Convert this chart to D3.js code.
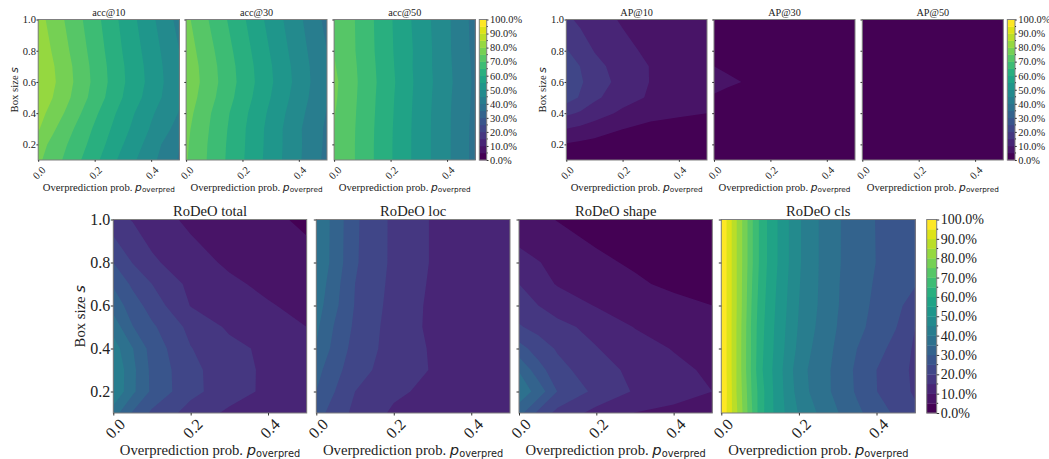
<!DOCTYPE html>
<html>
<head>
<meta charset="utf-8">
<script src="https://cdn.jsdelivr.net/npm/d3@7"></script>
<style>
  html, body { margin: 0; padding: 0; background: #fff; }
  text { font-family: "Liberation Serif", serif; fill: #222; }
  .math { font-family: "DejaVu Sans", sans-serif; }
  .domain { display: none; }
  .tick line { stroke: #333; }
</style>
</head>
<body>
<svg id="chart" width="1049" height="459"></svg>
<script>
// grid the values are read on, rows run from s = 0.1 up to s = 1.0
const sGrid = [0.1, 0.2, 0.3, 0.4, 0.5, 0.6, 0.7, 0.8, 1.0];
const pGrid = [0, 0.05, 0.1, 0.2, 0.3, 0.4, 0.5];
const pGridCls = [0, 0.02, 0.04, 0.06, 0.08, 0.1, 0.12, 0.15, 0.2, 0.25, 0.3, 0.35, 0.4, 0.45, 0.5];

const levels = d3.range(0, 101, 5);
const xTicks = [0, 0.2, 0.4];
const yTicks = [0.2, 0.4, 0.6, 0.8, 1.0];
const cbarTicks = d3.range(0, 101, 10);

const acc10 = [
  [76, 72.5, 68.9, 61.4, 53.3, 46.4, 39.5],
  [77.3, 73.7, 70.2, 63, 55.1, 47.8, 40],
  [80.5, 76, 72, 64.3, 56.7, 49.5, 43],
  [82, 78.2, 74.3, 66, 58, 50.7, 44.7],
  [84, 80.1, 76.2, 68, 59.9, 52.6, 45.6],
  [84.9, 81, 77, 68.8, 60.6, 53.4, 45.8],
  [84.5, 80.6, 76.7, 68.5, 60.4, 53.1, 45.5],
  [83.6, 79.7, 75.8, 67.9, 59.8, 52.5, 45],
  [82, 78.2, 74.4, 66.8, 58.7, 51.2, 43.3]
];
const acc30 = [
  [75.4, 71.8, 67.9, 60.5, 52.9, 45.7, 38.5],
  [75.7, 72, 68.1, 60.7, 53.1, 45.8, 38.9],
  [76.2, 72.4, 68.6, 60.9, 53.2, 45.7, 39.1],
  [77, 73.1, 69.1, 61.5, 53.9, 46.5, 39.7],
  [78, 74.2, 70.4, 62.7, 55, 47.5, 40.3],
  [78.7, 74.9, 71.1, 63.4, 55.7, 48.2, 40.5],
  [78.4, 74.6, 70.8, 63.1, 55.4, 47.9, 40.4],
  [77.7, 73.9, 70.1, 62.4, 54.7, 47.2, 40],
  [76.3, 72.3, 68.4, 60.9, 53.2, 46.1, 38.5]
];
const acc50 = [
  [75.1, 71.7, 68.1, 60.5, 53, 46, 38.3],
  [75.1, 71.7, 68.1, 60.5, 53, 46, 38.3],
  [75.1, 71.8, 68.2, 60.6, 53, 46, 38.4],
  [75.3, 72, 68.4, 60.8, 53.1, 46, 38.6],
  [75.8, 72.3, 68.6, 61, 53.3, 46.2, 38.8],
  [76.1, 72.5, 68.8, 61.3, 53.5, 46.5, 39],
  [75.4, 72.2, 68.6, 61, 53.3, 46.3, 38.8],
  [74.9, 71.8, 68.3, 60.7, 53.5, 46.1, 38.5],
  [74.8, 71.7, 68.1, 60.5, 53, 46, 38.2]
];
const ap10 = [
  [1.5, 1.2, 1, 0.7, 0.5, 0.4, 0.3],
  [4.6, 3.9, 3.2, 2.2, 1.6, 1.3, 1],
  [10, 8.9, 7.7, 5.1, 3.7, 3, 2.5],
  [16, 14.4, 12.3, 9, 6.5, 5.7, 5],
  [22.5, 19.5, 16, 12, 9.4, 7.9, 6.3],
  [23.5, 20.6, 17.7, 13.2, 9.8, 8.6, 7.5],
  [23, 19.9, 16.6, 12.7, 9.8, 8.4, 7.2],
  [20.4, 17.6, 14.8, 11.3, 9, 8, 7],
  [16, 14, 12, 9.5, 8, 7, 6.5]
];
const ap30 = [
  [0.3, 0.2, 0.2, 0.1, 0.1, 0.1, 0.1],
  [0.6, 0.5, 0.4, 0.3, 0.2, 0.2, 0.1],
  [1, 0.9, 0.7, 0.5, 0.3, 0.3, 0.2],
  [2.5, 2.2, 1.9, 1, 0.7, 0.5, 0.4],
  [4.5, 3.5, 2.7, 1.8, 1.2, 1, 0.8],
  [6.5, 5.8, 4.95, 3, 2, 1.5, 1],
  [5, 4.2, 3.5, 2.2, 1.5, 1.1, 0.8],
  [3.5, 3, 2.5, 1.6, 1.2, 0.9, 0.7],
  [1.8, 1.6, 1.3, 1, 0.8, 0.6, 0.5]
];
const ap50 = [
  [0.1, 0.1, 0.1, 0, 0, 0, 0],
  [0.2, 0.1, 0.1, 0.1, 0, 0, 0],
  [0.3, 0.2, 0.2, 0.1, 0.1, 0, 0],
  [0.5, 0.4, 0.3, 0.2, 0.1, 0.1, 0.1],
  [0.8, 0.6, 0.5, 0.3, 0.2, 0.1, 0.1],
  [1.2, 1, 0.8, 0.5, 0.3, 0.2, 0.2],
  [1, 0.8, 0.6, 0.4, 0.2, 0.2, 0.1],
  [0.7, 0.6, 0.5, 0.3, 0.2, 0.2, 0.1],
  [0.4, 0.3, 0.3, 0.2, 0.1, 0.1, 0.1]
];
const rodeoTotal = [
  [37.5, 29.5, 24, 18, 14, 12.5, 11.5],
  [44.7, 36.1, 29, 21.4, 17.3, 13.9, 12],
  [44.8, 36.3, 28.8, 21.3, 17.2, 14, 11.5],
  [42.5, 35.2, 28, 20.2, 16.4, 13.9, 11.5],
  [38, 30.2, 25.9, 18.6, 14.2, 11, 10],
  [33, 27.5, 22.8, 14.8, 12.6, 10.4, 8.6],
  [29.4, 24, 20, 13.7, 10.9, 8.9, 7.3],
  [25, 19.8, 15.9, 11.9, 9.2, 7.5, 6],
  [16.9, 14.7, 12.2, 9, 7.3, 5.7, 4.4]
];
const rodeoLoc = [
  [27, 22.7, 18.7, 14.2, 13, 12.3, 11.8],
  [30, 24.8, 20, 15.9, 13.8, 12.8, 12.1],
  [31.6, 26.6, 22, 17.5, 14.7, 13.4, 12.4],
  [34.8, 28, 23.3, 17.8, 14.5, 13.3, 12.4],
  [36, 29.2, 24.1, 17.8, 14, 13.1, 12.2],
  [37.3, 30.9, 24.7, 18.2, 14, 13, 12.2],
  [38.5, 31.6, 25, 18.6, 14.3, 13.3, 12.4],
  [39.5, 32.8, 25.6, 18.9, 14.6, 13.5, 12.5],
  [39.5, 33, 25.8, 18.9, 14.6, 13.5, 12.5]
];
const rodeoShape = [
  [32, 23.7, 18.4, 13.4, 9.9, 8.5, 7.5],
  [38.5, 33, 24.8, 18.7, 14.5, 12.3, 10],
  [34.7, 27.1, 21.7, 17, 13.8, 11.4, 9],
  [27, 22.6, 19.4, 15.2, 12.3, 9.7, 8.2],
  [20.5, 18.4, 16.3, 13.6, 9.8, 7.6, 6.4],
  [17.5, 15, 13, 9.7, 8.1, 6.6, 5],
  [15, 12, 9.6, 7.8, 5.8, 3.9, 2.9],
  [11.5, 10.2, 8.7, 6, 4.3, 3.3, 2.5],
  [7.3, 6, 4.8, 3, 2, 1.3, 0.8]
];
const rodeoCls = [
  [100, 92.7, 85.5, 78, 70, 62.5, 57.8, 52, 44.6, 39.6, 35.2, 31.1, 27.5, 24.1, 21],
  [100, 93, 84.6, 77.5, 69.1, 62.8, 57.7, 51.8, 42.9, 37.4, 33.7, 29.3, 25.1, 22.2, 19.3],
  [100, 92.6, 84.6, 76.6, 68.5, 61.4, 57.2, 51.5, 42.1, 37.4, 33.6, 29, 25, 22, 19],
  [100, 92.6, 84.6, 76.6, 68.7, 61.8, 57.7, 52.1, 43.7, 38.1, 34.1, 30, 26.8, 23.3, 19.2],
  [100, 92.6, 84.6, 76.8, 68.5, 62.3, 58, 52.5, 44.5, 39.2, 34.8, 31.5, 28.1, 25.2, 20],
  [100, 92.6, 84.9, 77.3, 69.1, 62.8, 58.5, 53, 45, 39.8, 35.2, 31.9, 28.9, 26.1, 23],
  [100, 92.6, 84.9, 77.5, 69.8, 63.4, 59, 53.5, 45.3, 40, 35.3, 32.2, 29.4, 27, 25.3],
  [100, 92.6, 84.9, 77.8, 70.4, 64, 59.5, 54.1, 45.6, 40.1, 35.5, 32.4, 29.9, 28.1, 26.5],
  [100, 92.6, 84.9, 77.8, 70.4, 64, 59.5, 54.1, 45.6, 40.1, 35.5, 32.5, 29.8, 28.1, 26.5]
];

const svg = d3.select('#chart');
// lowest band is the first colormap colour, top band the last
const color = t => d3.interpolateViridis(t / 95);
let clipId = 0;

// frame and text sizes of the two rows
const small = {
	top: 19.5, bottom: 160, tick: 1.8,
	tickFont: 10.5, cbarFont: 10.4, titleFont: 10.2, labelFont: 10.7, subFont: 7.3,
	labelY: 31, xTickY: 13, xTickX: 0.5, yLabelGap: 20.5
};
const large = {
	top: 219.5, bottom: 413, tick: 2.5,
	tickFont: 16, cbarFont: 14, titleFont: 14.6, labelFont: 14.7, subFont: 9.8,
	labelY: 42, xTickY: 15.5, xTickX: 1.5, yLabelGap: 28.5
};
const serif = '"Liberation Serif", serif';

const drawPanel = (cfg, frame, x0, x1, showY) => {
	const ps = cfg.p || pGrid;
	const g = svg.append('g');
	const x = d3.scaleLinear().domain([0, 0.5]).range([x0, x1]);
	const y = d3.scaleLinear().domain([0.1, 1]).range([frame.bottom, frame.top]);

	// d3.contours keeps grid point i at i + 0.5, undo that before mapping to data
	const xi = d3.scaleLinear().domain(ps.map((d, i) => i + 0.5)).range(ps.map(x));
	const yi = d3.scaleLinear().domain(sGrid.map((d, i) => i + 0.5)).range(sGrid.map(y));
	const path = d3.geoPath(d3.geoTransform({
		point(px, py) { this.stream.point(xi(px), yi(py)); }
	}));
	const contours = d3.contours().size([ps.length, sGrid.length]).smooth(true);
	const flat = cfg.values.flat();

	const id = `clip-${clipId++}`;
	svg.append('clipPath').attr('id', id).append('rect')
		.attr('x', x0).attr('y', frame.top)
		.attr('width', x1 - x0).attr('height', frame.bottom - frame.top);

	g.append('g').attr('clip-path', `url(#${id})`)
		.selectAll('path')
		.data(levels.slice(0, -1))
		.enter().append('path')
			.attr('d', t => path(contours.contour(flat, t)))
			.attr('fill', t => color(t));

	g.append('rect')
		.attr('x', x0).attr('y', frame.top)
		.attr('width', x1 - x0).attr('height', frame.bottom - frame.top)
		.attr('fill', 'none').attr('stroke', '#7f7f7f').attr('stroke-width', 1);

	// x axis, labels turned 45 degrees
	const xAxis = g.append('g')
		.attr('transform', `translate(0, ${frame.bottom})`)
		.call(d3.axisBottom(x).tickValues(xTicks).tickFormat(d3.format('.1f')).tickSize(frame.tick));
	xAxis.selectAll('text')
		.attr('font-size', frame.tickFont)
		.attr('text-anchor', 'middle')
		.attr('dy', 0)
		.attr('y', 0)
		.attr('transform', `translate(${frame.xTickX}, ${frame.xTickY}) rotate(-45)`)
		.attr('dominant-baseline', 'central')
		.style('font-family', serif);

	// y axis, only the first panel of a group has labels
	const yAxis = g.append('g')
		.attr('transform', `translate(${x0}, 0)`)
		.call(d3.axisLeft(y).tickValues(yTicks).tickFormat(showY ? d3.format('.1f') : '').tickSize(frame.tick).tickPadding(0.5));
	yAxis.selectAll('text')
		.attr('font-size', frame.tickFont)
		.style('font-family', serif);

	g.append('text')
		.attr('x', (x0 + x1) / 2)
		.attr('y', frame.top - 3.5)
		.attr('text-anchor', 'middle')
		.attr('font-size', frame.titleFont)
		.text(cfg.title);

	const label = g.append('text')
		.attr('x', (x0 + x1) / 2)
		.attr('y', frame.bottom + frame.labelY)
		.attr('text-anchor', 'middle')
		.attr('font-size', frame.labelFont);
	label.append('tspan').text('Overprediction prob. ');
	label.append('tspan').attr('class', 'math').attr('font-style', 'italic').text('p');
	label.append('tspan').attr('class', 'math')
		.attr('font-size', frame.subFont).attr('dy', frame.labelFont * 0.12).text('overpred');

	if (showY) {
		const yl = g.append('text')
			.attr('transform', `translate(${x0 - frame.yLabelGap}, ${(frame.top + frame.bottom) / 2}) rotate(-90)`)
			.attr('text-anchor', 'middle')
			.attr('font-size', frame.labelFont);
		yl.append('tspan').text('Box size ');
		yl.append('tspan').attr('class', 'math').attr('font-style', 'italic').text('s');
	}
};

const drawColorbar = (frame, x0, x1) => {
	const y = d3.scaleLinear().domain([0, 100]).range([frame.bottom, frame.top]);
	const g = svg.append('g');
	g.selectAll('rect')
		.data(levels.slice(0, -1))
		.enter().append('rect')
			.attr('x', x0)
			.attr('y', d => y(d + 5))
			.attr('width', x1 - x0)
			.attr('height', d => y(d) - y(d + 5) + 0.3)
			.attr('fill', d => color(d));
	g.append('rect')
		.attr('x', x0).attr('y', frame.top)
		.attr('width', x1 - x0).attr('height', frame.bottom - frame.top)
		.attr('fill', 'none').attr('stroke', '#7f7f7f').attr('stroke-width', 1);
	const axis = g.append('g')
		.attr('transform', `translate(${x1}, 0)`)
		.call(d3.axisRight(y).tickValues(cbarTicks).tickFormat(d => `${d.toFixed(1)}%`).tickSize(frame.tick).tickPadding(1.5));
	axis.selectAll('text')
		.attr('font-size', frame.cbarFont)
		.style('font-family', serif);
	// short marks on the in-between levels
	g.selectAll('.minor')
		.data(levels.filter(d => d % 10))
		.enter().append('line')
			.attr('class', 'minor')
			.attr('x1', x1).attr('x2', x1 + frame.tick * 0.6)
			.attr('y1', d => y(d)).attr('y2', d => y(d))
			.attr('stroke', '#333');
};

const acc = [
	{ title: 'acc@10', values: acc10, x: [38.2, 179.4] },
	{ title: 'acc@30', values: acc30, x: [186.1, 327] },
	{ title: 'acc@50', values: acc50, x: [334.1, 475.3] }
];
const ap = [
	{ title: 'AP@10', values: ap10, x: [566.3, 707] },
	{ title: 'AP@30', values: ap30, x: [714, 855] },
	{ title: 'AP@50', values: ap50, x: [862.3, 1003.3] }
];
const rodeo = [
	{ title: 'RoDeO total', values: rodeoTotal, x: [113.3, 306.7] },
	{ title: 'RoDeO loc', values: rodeoLoc, x: [316.3, 510] },
	{ title: 'RoDeO shape', values: rodeoShape, x: [519, 712.3] },
	{ title: 'RoDeO cls', values: rodeoCls, p: pGridCls, x: [721.3, 915.3] }
];

[[acc, small], [ap, small], [rodeo, large]].forEach(([group, frame]) => {
	group.forEach((cfg, i) => drawPanel(cfg, frame, cfg.x[0], cfg.x[1], i === 0));
});
drawColorbar(small, 479.3, 486.7);
drawColorbar(small, 1007.3, 1015);
drawColorbar(large, 926.7, 936.7);
</script>
</body>
</html>
